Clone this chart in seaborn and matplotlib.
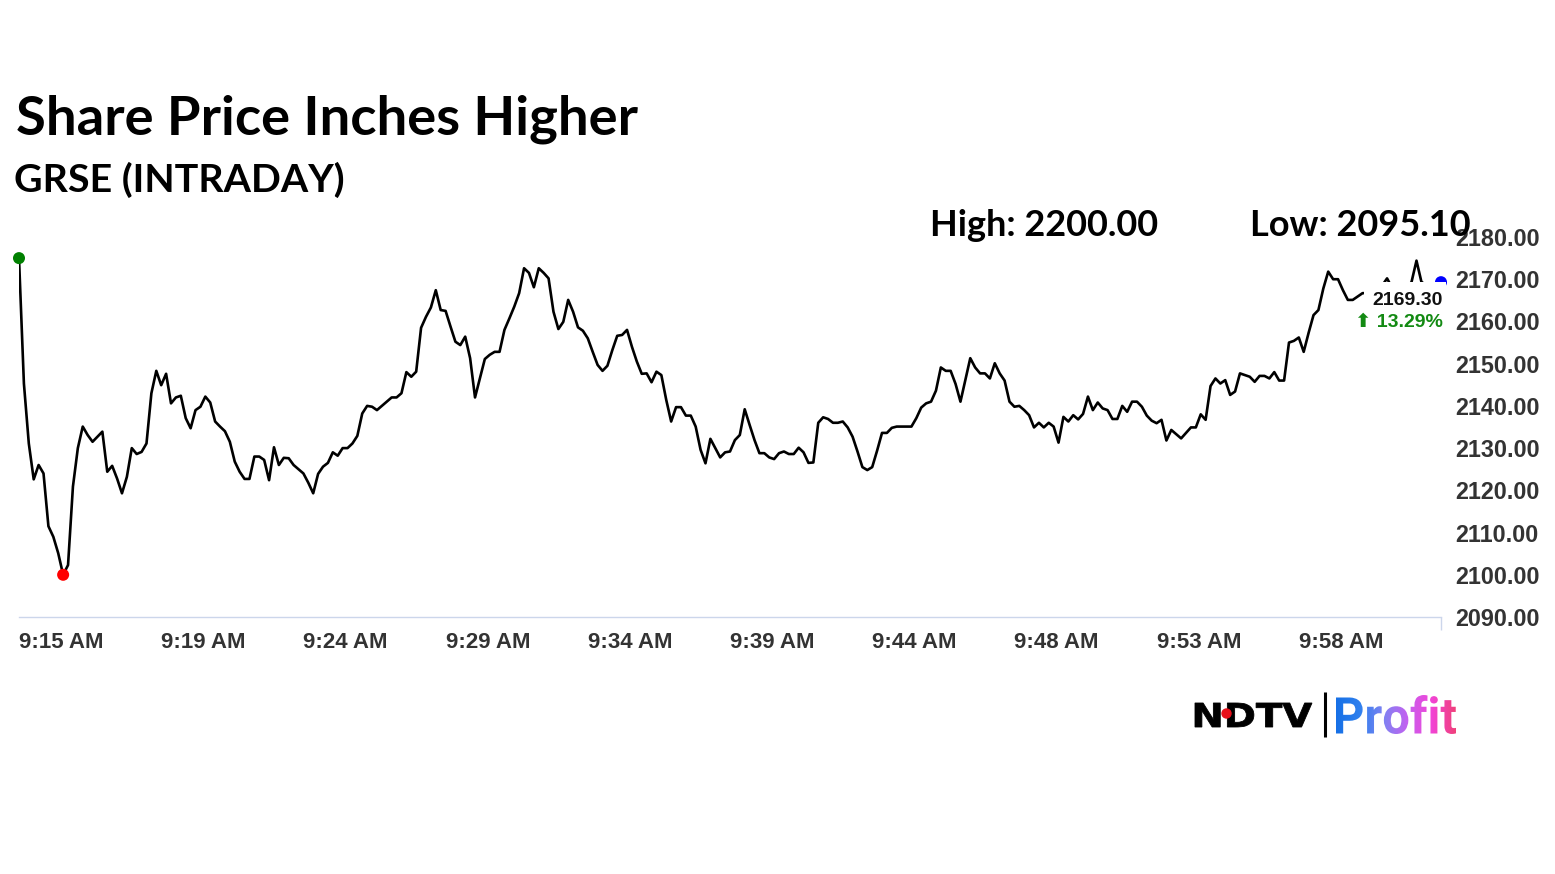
import numpy as np
import pandas as pd
import matplotlib
matplotlib.use("Agg")
import matplotlib.pyplot as plt
import seaborn as sns
from matplotlib.patches import Rectangle, PathPatch
from matplotlib.textpath import TextPath
from matplotlib.font_manager import FontProperties
from matplotlib.transforms import Affine2D
from matplotlib.colors import LinearSegmentedColormap

# ---------------- data ----------------
prices = [
    2175.0, 2145.3, 2131.1, 2122.6, 2126.0, 2124.0, 2111.5, 2109.0, 2105.1, 2100.0,
    2102.3, 2120.9, 2130.0, 2135.1, 2133.1, 2131.5, 2132.7, 2133.9, 2124.4, 2125.8,
    2122.8, 2119.3, 2123.2, 2130.0, 2128.6, 2129.1, 2131.1, 2143.0, 2148.3, 2144.9,
    2147.6, 2140.6, 2142.0, 2142.4, 2137.1, 2134.7, 2139.0, 2139.8, 2142.2, 2140.8,
    2136.3, 2135.1, 2134.0, 2131.5, 2126.8, 2124.4, 2122.7, 2122.7, 2128.0, 2128.0,
    2127.2, 2122.4, 2130.2, 2126.0, 2127.7, 2127.6, 2126.0, 2125.0, 2124.0, 2121.8,
    2119.3, 2123.9, 2125.6, 2126.5, 2129.0, 2128.2, 2130.0, 2130.0, 2131.1, 2132.9,
    2138.2, 2140.0, 2139.8, 2139.0, 2140.0, 2141.0, 2142.0, 2142.0, 2143.0, 2148.0,
    2146.9, 2148.1, 2158.5, 2161.1, 2163.3, 2167.4, 2162.7, 2162.5, 2158.8, 2155.2,
    2154.4, 2156.4, 2151.3, 2142.0, 2146.5, 2151.1, 2152.1, 2152.8, 2152.8, 2158.0,
    2160.7, 2163.5, 2166.7, 2172.6, 2171.5, 2168.1, 2172.6, 2171.5, 2170.2, 2162.3,
    2158.2, 2159.9, 2165.1, 2162.3, 2158.6, 2157.8, 2156.0, 2152.8, 2149.7, 2148.3,
    2149.5, 2153.2, 2156.6, 2156.8, 2158.0, 2154.0, 2150.5, 2147.6, 2147.7, 2145.6,
    2148.1, 2147.3, 2141.4, 2136.3, 2139.7, 2139.7, 2137.7, 2137.7, 2135.1, 2129.6,
    2126.4, 2132.2, 2130.0, 2127.8, 2129.0, 2129.2, 2131.9, 2133.1, 2139.2, 2135.5,
    2131.9, 2128.8, 2128.8, 2127.8, 2127.4, 2128.8, 2129.2, 2128.6, 2128.6, 2130.1,
    2129.0, 2126.5, 2126.6, 2136.0, 2137.3, 2136.9, 2136.0, 2136.0, 2136.3, 2134.9,
    2132.7, 2129.2, 2125.5, 2124.8, 2125.5, 2129.4, 2133.6, 2133.6, 2134.8, 2135.1,
    2135.1, 2135.1, 2135.1, 2137.1, 2139.6, 2140.6, 2141.0, 2143.6, 2149.1, 2148.3,
    2148.3, 2145.2, 2141.0, 2146.1, 2151.3, 2149.1, 2147.7, 2147.7, 2146.5, 2150.1,
    2147.7, 2146.0, 2141.0, 2139.8, 2140.0, 2139.0, 2137.8, 2134.9, 2136.0, 2134.9,
    2136.0, 2135.1, 2131.3, 2137.4, 2136.3, 2137.8, 2136.8, 2138.1, 2142.2, 2139.0,
    2140.8, 2139.4, 2139.0, 2136.9, 2136.9, 2140.0, 2138.6, 2141.0, 2141.0, 2139.8,
    2137.7, 2136.5, 2135.9, 2136.7, 2131.8, 2134.3, 2133.3, 2132.3, 2133.6, 2134.9,
    2134.9, 2138.0, 2136.7, 2144.7, 2146.5, 2145.3, 2146.1, 2142.6, 2143.4, 2147.7,
    2147.3, 2146.9, 2145.7, 2147.1, 2147.1, 2146.5, 2148.0, 2146.0, 2146.0, 2155.0,
    2155.4, 2156.2, 2152.8, 2157.3, 2161.5, 2162.7, 2167.8, 2171.8, 2170.0, 2170.0,
    2167.4, 2165.1, 2165.1, 2165.9, 2166.7, 2166.7, 2166.0, 2167.0, 2168.5, 2170.2,
    2168.0, 2167.5, 2168.0, 2167.5, 2169.4, 2174.4, 2169.4, 2168.5, 2168.8, 2169.0,
    2169.3,
]
x_tick_labels = ["9:15 AM", "9:19 AM", "9:24 AM", "9:29 AM", "9:34 AM",
                 "9:39 AM", "9:44 AM", "9:48 AM", "9:53 AM", "9:58 AM"]
x_tick_step = 29
y_ticks = [2090, 2100, 2110, 2120, 2130, 2140, 2150, 2160, 2170, 2180]

title = "Share Price Inches Higher"
subtitle = "GRSE (INTRADAY)"
high_text = "High: 2200.00"
low_text = "Low: 2095.10"
last_price = 2169.30
change_pct = 13.29

# ---------------- style ----------------
sns.set_theme(style="white")
plt.rcParams["font.family"] = ["Liberation Sans", "DejaVu Sans"]

W, H = 1555, 874
fig = plt.figure(figsize=(W / 100, H / 100), dpi=100)
fig.patch.set_facecolor("white")

ax_left, ax_right, ax_top, ax_bottom = 19, 1441, 237, 617
ax = fig.add_axes([ax_left / W, 1 - ax_bottom / H,
                   (ax_right - ax_left) / W, (ax_bottom - ax_top) / H])
ax.set_facecolor("none")

n = len(prices)
df = pd.DataFrame({"idx": np.arange(n), "price": prices})
sns.lineplot(data=df, x="idx", y="price", ax=ax, color="black",
             linewidth=1.9, zorder=3)

# start / low / last markers
i_min = int(np.argmin(prices))
mk = pd.DataFrame({"idx": [0, i_min, n - 1],
                   "price": [prices[0], prices[i_min], prices[-1]],
                   "kind": ["start", "low", "last"]})
sns.scatterplot(data=mk, x="idx", y="price", hue="kind", ax=ax,
                palette={"start": "#008000", "low": "#ff0000", "last": "#0000ff"},
                s=75, edgecolor="none", legend=False, zorder=4)
for coll in ax.collections:
    coll.set_clip_on(False)

# white label background (covers tail of the line, as in the reference)
ax.add_patch(Rectangle((n - 1 - 15.8, last_price - 12.6), 16.8, 12.6,
                       facecolor="white", edgecolor="none", zorder=5,
                       clip_on=False))
ax.annotate(f"{last_price:.2f}", xy=(n - 1, last_price), xytext=(1.5, -16.5),
            textcoords="offset points", ha="right", va="baseline",
            fontsize=14, fontweight="bold", color="#111111", zorder=6,
            annotation_clip=False)
ax.annotate(f"\u2b06 {change_pct:.2f}%", xy=(n - 1, last_price), xytext=(1.5, -32.5),
            textcoords="offset points", ha="right", va="baseline",
            fontsize=14, fontweight="bold", color="#138a13", zorder=6,
            family=["Liberation Sans", "DejaVu Sans"], annotation_clip=False)

# axes formatting
ax.set_xlim(0, n - 1)
ax.set_ylim(y_ticks[0], y_ticks[-1])
ax.set_xlabel("")
ax.set_ylabel("")
for s in ["top", "left", "right"]:
    ax.spines[s].set_visible(False)
ax.spines["bottom"].set_color("#ccd6eb")
ax.spines["bottom"].set_linewidth(1.0)

ax.set_xticks(np.arange(len(x_tick_labels)) * x_tick_step)
ax.set_xticklabels(x_tick_labels, ha="left")
ax.set_xticks([0, n - 1], minor=True)
ax.tick_params(axis="x", which="major", length=0, pad=11, labelsize=16,
               labelcolor="#333333")
ax.tick_params(axis="x", which="minor", length=9, width=1, color="#ccd6eb",
               direction="out", bottom=True)
for lbl in ax.get_xticklabels():
    lbl.set_fontweight("bold")

ax.yaxis.tick_right()
ax.set_yticks(y_ticks)
ax.set_yticklabels([f"{v:.2f}" for v in y_ticks])
ax.tick_params(axis="y", length=0, pad=10, labelsize=16.8, labelcolor="#333333")
for lbl in ax.get_yticklabels():
    lbl.set_fontweight("bold")
ax.grid(False)

# ---------------- figure-level texts (pixel overlay) ----------------
pax = fig.add_axes([0, 0, 1, 1], zorder=10)
pax.set_xlim(0, W)
pax.set_ylim(H, 0)
pax.axis("off")
pax.patch.set_alpha(0)

head_font = ["Lato", "DejaVu Sans"]
pax.text(16, 135, title, fontsize=39.2, fontweight="bold", family=head_font,
         color="black", va="baseline", ha="left")
pax.text(14, 192, subtitle, fontsize=28.4, fontweight="bold", family=head_font,
         color="black", va="baseline", ha="left")
pax.text(930, 236, high_text, fontsize=26, fontweight="bold", family=head_font,
         color="black", va="baseline", ha="left")
pax.text(1250, 236, low_text, fontsize=26, fontweight="bold", family=head_font,
         color="black", va="baseline", ha="left")

# ---------------- logo ----------------
def place_path(text, fam, weight, x0, x1, base, cap):
    tp = TextPath((0, 0), text, size=40, prop=FontProperties(family=fam, weight=weight))
    e = tp.get_extents()
    tr = (Affine2D().translate(-e.x0, -e.y0)
          .scale((x1 - x0) / e.width, -cap / e.height).translate(x0, base))
    return tr.transform_path(tp)

ndtv = place_path("NDTV", "DejaVu Sans", "bold", 1195, 1312, 727, 24)
pax.add_patch(PathPatch(ndtv, facecolor="black", edgecolor="black", lw=0.6, zorder=11))
pax.scatter([1226], [713], s=42, color="#e8101a", zorder=12)
pax.plot([1325, 1325], [692, 737], color="black", lw=2.2, solid_capstyle="butt")

profit = place_path("Profit", "Roboto", "bold", 1336, 1456, 734, 39)
patch = PathPatch(profit, facecolor="none", edgecolor="none", transform=pax.transData)
pax.add_patch(patch)
grad = np.linspace(0, 1, 256).reshape(1, -1)
cmap = LinearSegmentedColormap.from_list(
    "profit", ["#1670e6", "#2f80ee", "#7f82f2", "#c660f0", "#f244d6", "#f0407a"])
bb = profit.get_extents()
im = pax.imshow(grad, cmap=cmap, aspect="auto",
                extent=(bb.x0, bb.x1, bb.y1, bb.y0), zorder=11)
im.set_clip_path(patch)
pax.set_xlim(0, W)
pax.set_ylim(H, 0)

fig.savefig("out.png", dpi=100, facecolor="white")
